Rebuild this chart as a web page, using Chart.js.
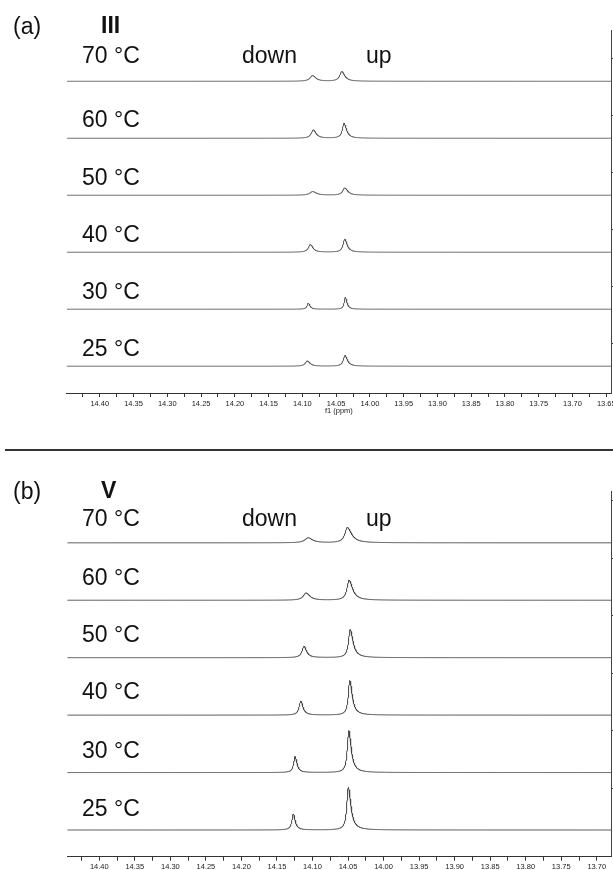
<!DOCTYPE html>
<html><head><meta charset="utf-8">
<script src="https://cdn.jsdelivr.net/npm/chart.js@4.4.1/dist/chart.umd.min.js"></script>
<style>
html,body{margin:0;padding:0;background:#fff;width:613px;height:870px;overflow:hidden;}
#wrap{position:relative;width:613px;height:870px;font-family:'Liberation Sans',Arial,sans-serif;color:#111;}
canvas{position:absolute;left:0;}
.lbl{position:absolute;font-size:23px;line-height:1;white-space:nowrap;transform:translateY(-50%);}
.bold{font-weight:bold;}
#sep{position:absolute;left:5px;top:449px;width:608px;height:2px;background:#333;}
</style></head><body>
<div id="wrap">
<canvas id="ca" width="613" height="422" style="top:0px"></canvas>
<canvas id="cb" width="613" height="418" style="top:452px"></canvas>
<div id="sep"></div>
</div>
<script>
// ---------- DATA ----------
const temps = ['70 °C', '60 °C', '50 °C', '40 °C', '30 °C', '25 °C'];

// Panel (a) compound III : peak positions (ppm), heights, half widths (ppm)
const downPpmA = [14.0850, 14.0838, 14.0847, 14.0882, 14.0912, 14.0927];
const downHtA  = [10.0, 14.6, 6.5, 13.5, 10.5, 9.3];
const downHwA  = [0.0044, 0.0037, 0.0050, 0.0035, 0.0022, 0.0035];
const upPpmA   = [14.0417, 14.0383, 14.0373, 14.0373, 14.0364, 14.0369];
const upHtA    = [17.0, 26.3, 12.8, 22.8, 21.0, 18.8];
const upHwA    = [0.0037, 0.0030, 0.0037, 0.0030, 0.0020, 0.0030];

// Panel (b) compound V
const downPpmB = [14.1060, 14.1090, 14.1120, 14.1165, 14.1245, 14.1270];
const downHtB  = [8.7, 12.7, 19.7, 24.4, 27.8, 27.8];
const downHwB  = [0.0056, 0.0047, 0.0033, 0.0028, 0.0024, 0.0024];
const upPpmB   = [14.0510, 14.0486, 14.0470, 14.0476, 14.0490, 14.0496];
const upHtB    = [26.6, 34.8, 48.7, 60.4, 73.1, 74.3];
const upHwB    = [0.0042, 0.0035, 0.0028, 0.0024, 0.0024, 0.0025];

// axis tick labels
const ppmTicksA = ['14.40','14.35','14.30','14.25','14.20','14.15','14.10','14.05','14.00','13.95','13.90','13.85','13.80','13.75','13.70','13.65'];
const ppmTicksB = ['14.40','14.35','14.30','14.25','14.20','14.15','14.10','14.05','14.00','13.95','13.90','13.85','13.80','13.75','13.70'];
const intTicksA = [40, 140, 240, 340, 440, 540];
const intTicksB = [73, 173, 273, 373, 473, 573];

// ---------- helpers ----------
function line(x, x0, h, w, tail) {
  const ww = x < x0 ? w * tail : w;
  const d = (x - x0) / ww;
  return h / (1 + d * d);
}
function buildTrace(lo, hi, offset, peaks) {
  const step = 0.00025;
  const n = Math.round((hi - lo) / step);
  const xs = [];
  for (let i = 0; i <= n; i++) xs.push(hi - i * step);
  peaks.forEach(p => xs.push(p.x0));
  xs.sort((a, b) => b - a);
  return xs.map(x => ({ x, y: offset + peaks.reduce((s, p) => s + line(x, p.x0, p.h, p.w, p.tail), 0) }));
}

function makePanel(id, cfg) {
  const majors = cfg.ticks.map(Number);
  const minors = majors.map(v => v + 0.025).concat([majors[majors.length - 1] - 0.025]);
  const allTicks = majors.concat(minors).filter(v => v <= cfg.max && v >= cfg.min).sort((a, b) => b - a);
  const majorSet = new Set(cfg.ticks);
  const datasets = temps.map((t, i) => ({
    label: t,
    data: buildTrace(cfg.min, cfg.max, (temps.length - 1 - i) * 100, [
      { x0: cfg.downPpm[i], h: cfg.downHt[i], w: cfg.downHw[i], tail: 1.3 },
      { x0: cfg.upPpm[i], h: cfg.upHt[i], w: cfg.upHw[i], tail: cfg.tail }
    ]),
    borderColor: cfg.color,
    borderWidth: 1,
    pointRadius: 0,
    tension: 0,
    fill: false
  }));
  return new Chart(document.getElementById(id), {
    type: 'line',
    data: { datasets },
    options: {
      responsive: false,
      animation: false,
      events: [],
      layout: { padding: { left: cfg.padLeft, top: cfg.padTop, right: 0, bottom: 0 } },
      plugins: { legend: { display: false }, tooltip: { enabled: false } },
      scales: {
        x: {
          type: 'linear',
          reverse: true,
          min: cfg.min,
          max: cfg.max,
          afterBuildTicks: ax => { ax.ticks = allTicks.map(v => ({ value: v })); },
          afterFit: ax => { ax.height = cfg.xHeight; ax.paddingLeft = 0; ax.paddingRight = 0; },
          ticks: {
            autoSkip: false,
            maxRotation: 0,
            padding: 2,
            color: '#222',
            font: { family: "'Liberation Sans', Arial, sans-serif", size: 7.5 },
            callback: v => { const s = Number(v).toFixed(2); return (majorSet.has(s) && Math.abs(Number(s) - v) < 1e-6) ? s : ''; }
          },
          grid: { drawOnChartArea: false, tickLength: 4, tickColor: '#333', tickWidth: 1 },
          border: { display: true, color: '#333', width: 1 },
          title: { display: cfg.showTitle, text: 'f1 (ppm)', color: '#222', padding: { top: 0, bottom: 7 },
                   font: { family: "'Liberation Sans', Arial, sans-serif", size: 7.5 } }
        },
        y: {
          type: 'linear',
          position: 'right',
          min: cfg.ymin,
          max: cfg.ymax,
          afterBuildTicks: ax => { ax.ticks = cfg.intTicks.map(v => ({ value: v })); },
          afterFit: ax => { ax.width = 2; },
          ticks: { display: false },
          grid: { drawOnChartArea: false, tickLength: 4, tickColor: '#444' },
          border: { display: true, color: '#444', width: 1 }
        }
      }
    }
  });
}

makePanel('ca', {
  min: 13.643, max: 14.449, ticks: ppmTicksA, intTicks: intTicksA,
  downPpm: downPpmA, downHt: downHtA, downHw: downHwA,
  upPpm: upPpmA, upHt: upHtA, upHw: upHwA, tail: 1.4,
  color: '#555555', padLeft: 66.7, padTop: 30, xHeight: 29, ymin: -47, ymax: 590, showTitle: true
});
makePanel('cb', {
  min: 13.680, max: 14.445, ticks: ppmTicksB, intTicks: intTicksB,
  downPpm: downPpmB, downHt: downHtB, downHw: downHwB,
  upPpm: upPpmB, upHt: upHtB, upHw: upHwB, tail: 1.7,
  color: '#444444', padLeft: 67.3, padTop: 39.7, xHeight: 13.3, ymin: -46.5, ymax: 589, showTitle: false
});

// ---------- text labels ----------
const labelsA = { panel: '(a)', compound: 'III', tempY: [55, 119, 177, 234, 291, 348], headY: 26 };
const labelsB = { panel: '(b)', compound: 'V', tempY: [518, 577, 634, 691, 750, 808], headY: 491 };
const wrap = document.getElementById('wrap');
function addLabel(text, left, y, bold) {
  const d = document.createElement('div');
  d.className = 'lbl' + (bold ? ' bold' : '');
  d.style.left = left + 'px';
  d.style.top = y + 'px';
  d.textContent = text;
  wrap.appendChild(d);
}
[labelsA, labelsB].forEach(L => {
  addLabel(L.panel, 13, L.headY, false);
  addLabel(L.compound, 101, L.headY - 1, true);
  temps.forEach((t, i) => addLabel(t, 82, L.tempY[i], false));
  addLabel('down', 242, L.tempY[0], false);
  addLabel('up', 366, L.tempY[0], false);
});
</script>
</body></html>
